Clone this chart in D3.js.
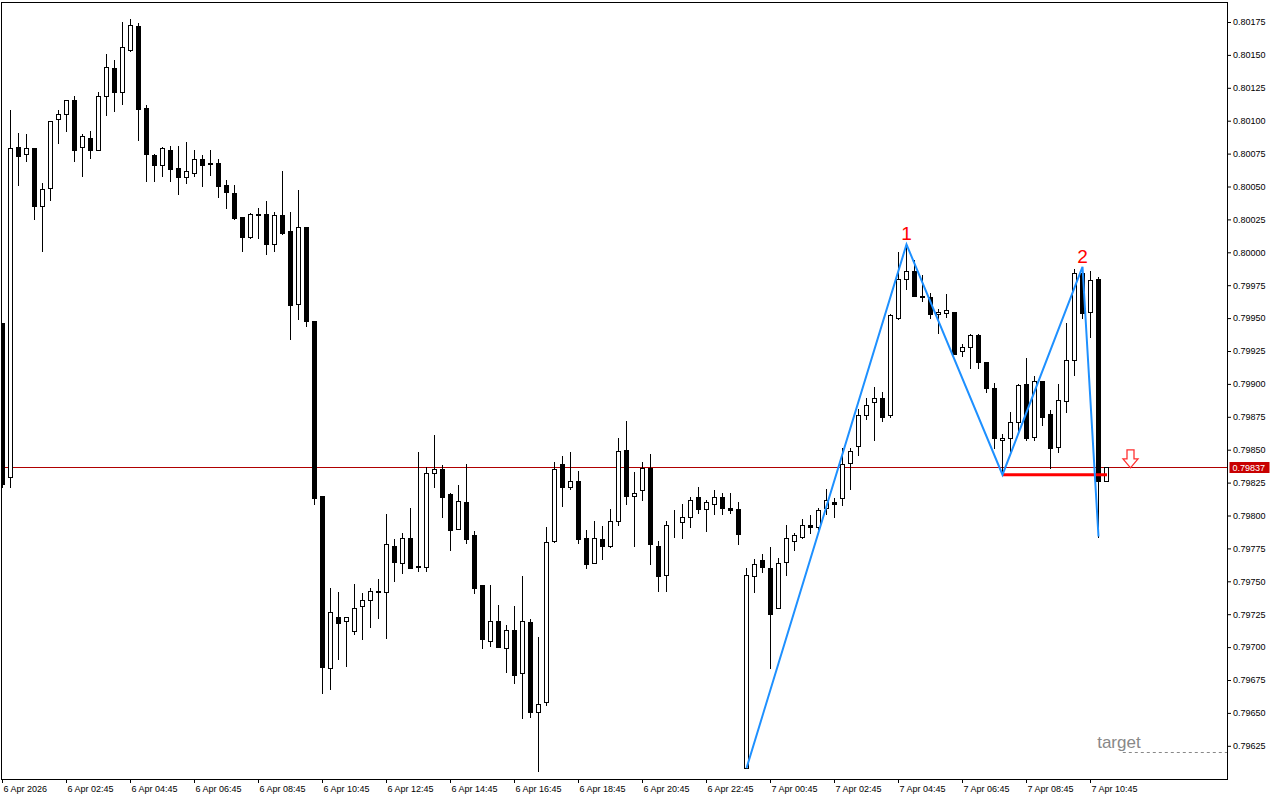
<!DOCTYPE html>
<html>
<head>
<meta charset="utf-8">
<script src="https://cdn.jsdelivr.net/npm/d3@7/dist/d3.min.js"></script>
<style>
html,body{margin:0;padding:0;background:#fff;}
svg{display:block;}
</style>
</head>
<body>
<svg id="chart" width="1280" height="800"></svg>
<script>
// ---- DATA (15-minute bars, 6 Apr 2026 00:45 onwards) ----
const openP = [.79946,.79829,.80080,.80075,.80079,.80035,.80049,.80101,.80105,.80116,
.80080,.80087,.80078,.80119,.80140,.80122,.80154,.80172,.80110,.80074,
.80066,.80078,.80064,.80057,.80060,.80071,.80068,.80068,.80051,.80045,
.80027,.80012,.80029,.80029,.80006,.80028,.80016,.79961,.80019,.79948,
.79815,.79684,.79723,.79720,.79712,.79731,.79736,.79743,.79742,.79777,
.79764,.79783,.79762,.79761,.79832,.79835,.79816,.79790,.79810,.79785,
.79747,.79705,.79720,.79699,.79713,.79680,.79719,.79651,.79658,.79781,
.79839,.79822,.79826,.79783,.79764,.79782,.79777,.79796,.79850,.79815,
.79819,.79836,.79777,.79755,.79795,.79795,.79799,.79814,.79805,.79809,
.79814,.79806,.79805,.79608,.79754,.79766,.79760,.79730,.79765,.79781,
.79784,.79793,.79791,.79806,.79810,.79813,.79840,.79853,.79876,.79886,
.79889,.79876,.79950,.79980,.79986,.79967,.79966,.79953,.79954,.79955,
.79925,.79928,.79937,.79917,.79897,.79857,.79859,.79871,.79900,.79860,
.79902,.79877,.79852,.79887,.79918,.79984,.79955,.79980,.79826];
const highP = [.79946,.80108,.80091,.80090,.80079,.80053,.80100,.80108,.80116,.80119,
.80090,.80092,.80122,.80151,.80146,.80175,.80177,.80174,.80112,.80075,
.80080,.80081,.80081,.80084,.80078,.80074,.80078,.80071,.80055,.80051,
.80027,.80030,.80034,.80039,.80031,.80062,.80031,.80047,.80019,.79948,
.79815,.79745,.79742,.79723,.79748,.79741,.79745,.79752,.79801,.79782,
.79787,.79806,.79848,.79837,.79861,.79838,.79817,.79823,.79839,.79788,
.79747,.79747,.79732,.79717,.79731,.79754,.79721,.79708,.79791,.79841,
.79845,.79848,.79834,.79789,.79796,.79792,.79805,.79859,.79872,.79833,
.79841,.79847,.79781,.79796,.79804,.79809,.79814,.79822,.79812,.79819,
.79817,.79817,.79810,.79760,.79767,.79771,.79776,.79768,.79793,.79787,
.79797,.79800,.79806,.79820,.79813,.79851,.79851,.79881,.79889,.79898,
.79894,.79953,.80000,.80006,.79994,.79983,.79969,.79957,.79968,.79955,
.79930,.79938,.79938,.79917,.79901,.79862,.79879,.79900,.79920,.79906,
.79902,.79880,.79900,.79946,.79987,.79989,.79986,.79981,.79837];
const lowP = [.79822,.79822,.80051,.80069,.80025,.80001,.80040,.80083,.80092,.80069,
.80058,.80072,.80078,.80104,.80107,.80113,.80153,.80085,.80054,.80054,
.80058,.80054,.80044,.80053,.80058,.80050,.80059,.80042,.80034,.80025,
.80001,.80011,.80011,.79999,.80001,.80014,.79934,.79949,.79944,.79809,
.79665,.79668,.79691,.79686,.79710,.79706,.79715,.79722,.79707,.79750,
.79756,.79760,.79758,.79758,.79822,.79799,.79774,.79790,.79779,.79741,
.79699,.79701,.79700,.79681,.79673,.79646,.79647,.79606,.79656,.79780,
.79807,.79820,.79779,.79760,.79764,.79767,.79776,.79793,.79809,.79777,
.79812,.79763,.79743,.79743,.79784,.79783,.79791,.79802,.79788,.79801,
.79801,.79802,.79778,.79608,.79742,.79757,.79684,.79730,.79755,.79774,
.79783,.79787,.79790,.79801,.79799,.79808,.79820,.79846,.79873,.79857,
.79872,.79875,.79949,.79972,.79967,.79963,.79950,.79939,.79951,.79923,
.79921,.79912,.79912,.79894,.79851,.79831,.79849,.79864,.79857,.79857,
.79869,.79836,.79848,.79879,.79907,.79950,.79936,.79784,.79826];
const closeP = [.79824,.80079,.80073,.80079,.80035,.80048,.80100,.80105,.80116,.80078,
.80088,.80078,.80119,.80141,.80122,.80156,.80173,.80109,.80075,.80066,
.80079,.80063,.80057,.80062,.80071,.80066,.80067,.80050,.80046,.80026,
.80012,.80029,.80028,.80006,.80028,.80015,.79960,.80019,.79948,.79813,
.79685,.79727,.79718,.79723,.79730,.79736,.79743,.79742,.79778,.79765,
.79783,.79760,.79761,.79832,.79835,.79814,.79789,.79811,.79782,.79745,
.79706,.79720,.79700,.79713,.79679,.79720,.79651,.79657,.79780,.79835,
.79822,.79826,.79782,.79763,.79783,.79777,.79796,.79849,.79815,.79817,
.79836,.79778,.79754,.79793,.79795,.79799,.79812,.79805,.79810,.79814,
.79806,.79804,.79786,.79755,.79763,.79761,.79725,.79764,.79783,.79785,
.79793,.79791,.79804,.79812,.79809,.79839,.79849,.79876,.79884,.79889,
.79875,.79952,.79980,.79986,.79967,.79966,.79953,.79955,.79956,.79923,
.79928,.79937,.79917,.79897,.79859,.79859,.79871,.79899,.79859,.79902,
.79875,.79851,.79888,.79918,.79984,.79954,.79979,.79826,.79837];

const priceTicks = [0.79625,0.79650,0.79675,0.79700,0.79725,0.79750,0.79775,0.79800,0.79825,0.79850,
0.79875,0.79900,0.79925,0.79950,0.79975,0.80000,0.80025,0.80050,0.80075,0.80100,0.80125,0.80150,0.80175];
const timeTickBars = [0,8,16,24,32,40,48,56,64,72,80,88,96,104,112,120,128,136];
const timeTickLabels = ["6 Apr 2026","6 Apr 02:45","6 Apr 04:45","6 Apr 06:45","6 Apr 08:45","6 Apr 10:45",
"6 Apr 12:45","6 Apr 14:45","6 Apr 16:45","6 Apr 18:45","6 Apr 20:45","6 Apr 22:45",
"7 Apr 00:45","7 Apr 02:45","7 Apr 04:45","7 Apr 06:45","7 Apr 08:45","7 Apr 10:45"];

const zigzagBars = [93,113,125,135,137];
const zigzagPrices = [0.79608,0.80006,0.79831,0.79989,0.79784];
const waveLabels = [{bar:113, price:0.80006, text:"1"},{bar:135, price:0.79989, text:"2"}];
const levelStartBar = 125, levelEndBar = 138, levelPrice = 0.79831;
const currentPrice = 0.79837;
const arrowBar = 141;
const targetPrice = 0.79620, targetStartBar = 140.1, targetText = "target", targetTextBar = 136.9;

// ---- LAYOUT ----
const svg = d3.select("#chart");
const plotL = 1.5, plotT = 2.5, plotR = 1227.5, plotB = 779.5;
const x = d3.scaleLinear().domain([0, 1]).range([2, 10]);
const y = d3.scaleLinear().domain([0.79625, 0.80175]).range([745.8, 22]);
const FONT = "'Liberation Sans', Arial, sans-serif";

svg.append("rect").attr("width",1280).attr("height",800).attr("fill","#fff");

const clip = svg.append("clipPath").attr("id","plotclip").append("rect")
  .attr("x",plotL).attr("y",plotT).attr("width",plotR-plotL).attr("height",plotB-plotT);
const plot = svg.append("g").attr("clip-path","url(#plotclip)");

// current price line
const cy = Math.round(y(currentPrice)) + 0.5;
plot.append("line").attr("x1",plotL).attr("x2",plotR).attr("y1",cy).attr("y2",cy)
  .attr("stroke","#b00000").attr("stroke-width",1);

// candles
const bars = d3.range(openP.length).map(i => ({i, o:openP[i], h:highP[i], l:lowP[i], c:closeP[i]}));
const cg = plot.append("g");
bars.forEach(b => {
  const cx = Math.round(x(b.i));
  const yh = Math.round(y(b.h)), yl = Math.round(y(b.l));
  const yo = Math.round(y(b.o)), yc = Math.round(y(b.c));
  cg.append("line").attr("x1",cx+0.5).attr("x2",cx+0.5).attr("y1",yh).attr("y2",yl+1)
    .attr("stroke","#000").attr("stroke-width",1);
  if (b.c >= b.o) {
    cg.append("rect").attr("x",cx-1.5).attr("y",yc+0.5).attr("width",4).attr("height",Math.max(0,yo-yc))
      .attr("fill","#fff").attr("stroke","#000").attr("stroke-width",1);
  } else {
    cg.append("rect").attr("x",cx-2).attr("y",yo).attr("width",5).attr("height",Math.max(1,yc-yo+1))
      .attr("fill","#000");
  }
});

// level line
plot.append("line").attr("x1",x(levelStartBar)).attr("x2",x(levelEndBar)+1)
  .attr("y1",y(levelPrice)).attr("y2",y(levelPrice))
  .attr("stroke","#ff0000").attr("stroke-width",3);

// zigzag
const zz = zigzagBars.map((b,i)=>[x(b)+0.5, y(zigzagPrices[i])]);
plot.append("path").attr("d", d3.line()(zz)).attr("fill","none")
  .attr("stroke","#1e90ff").attr("stroke-width",2);

waveLabels.forEach(w => {
  plot.append("text").attr("x",x(w.bar)+0.5).attr("y",y(w.price)-4)
    .attr("text-anchor","middle").attr("font-family",FONT).attr("font-size",19)
    .attr("fill","#ff0000").text(w.text);
});

// arrow (hollow down arrow, tip at current price)
const ax = x(arrowBar)+0.5, ay = y(currentPrice)+1;
plot.append("path")
  .attr("d",`M${ax-3.5},${ay-18} H${ax+3.5} V${ay-9} H${ax+7.5} L${ax},${ay} L${ax-7.5},${ay-9} H${ax-3.5} Z`)
  .attr("fill","#fff").attr("stroke","#ff3030").attr("stroke-width",1.3);

// target
const ty = Math.round(y(targetPrice))+0.5;
plot.append("line").attr("x1",x(targetStartBar)).attr("x2",plotR).attr("y1",ty).attr("y2",ty)
  .attr("stroke","#888").attr("stroke-width",1).attr("stroke-dasharray","3,3");
plot.append("text").attr("x",x(targetTextBar)).attr("y",ty-5)
  .attr("font-family",FONT).attr("font-size",17).attr("fill","#888").text(targetText);

// frame
svg.append("rect").attr("x",plotL).attr("y",plotT).attr("width",plotR-plotL).attr("height",plotB-plotT)
  .attr("fill","none").attr("stroke","#000").attr("stroke-width",1);

// right axis
const yAxis = d3.axisRight(y).tickValues(priceTicks).tickSize(4).tickPadding(2)
  .tickFormat(d3.format(".5f"));
const ya = svg.append("g").attr("transform",`translate(${plotR-0.5},0)`).call(yAxis);
ya.select(".domain").remove();
ya.selectAll("text").attr("font-family",FONT).attr("font-size",9).attr("fill","#000");
ya.selectAll("line").attr("stroke","#000");

// bottom axis
const xAxis = d3.axisBottom(x).tickValues(timeTickBars).tickSize(4).tickPadding(3)
  .tickFormat((d,i)=>timeTickLabels[i]);
const xa = svg.append("g").attr("transform",`translate(0,${plotB-0.5})`).call(xAxis);
xa.select(".domain").remove();
xa.selectAll("text").attr("font-family",FONT).attr("font-size",9).attr("fill","#000")
  .attr("text-anchor","start").attr("dx",1);
xa.selectAll("line").attr("stroke","#000");

// current price label
const lbl = svg.append("g");
lbl.append("rect").attr("x",plotR+2).attr("y",cy-5.5).attr("width",40).attr("height",11).attr("fill","#c80000");
lbl.append("text").attr("x",plotR+5).attr("y",cy+3.5).attr("font-family",FONT).attr("font-size",9)
  .attr("fill","#fff").text(d3.format(".5f")(currentPrice));
</script>
</body>
</html>
